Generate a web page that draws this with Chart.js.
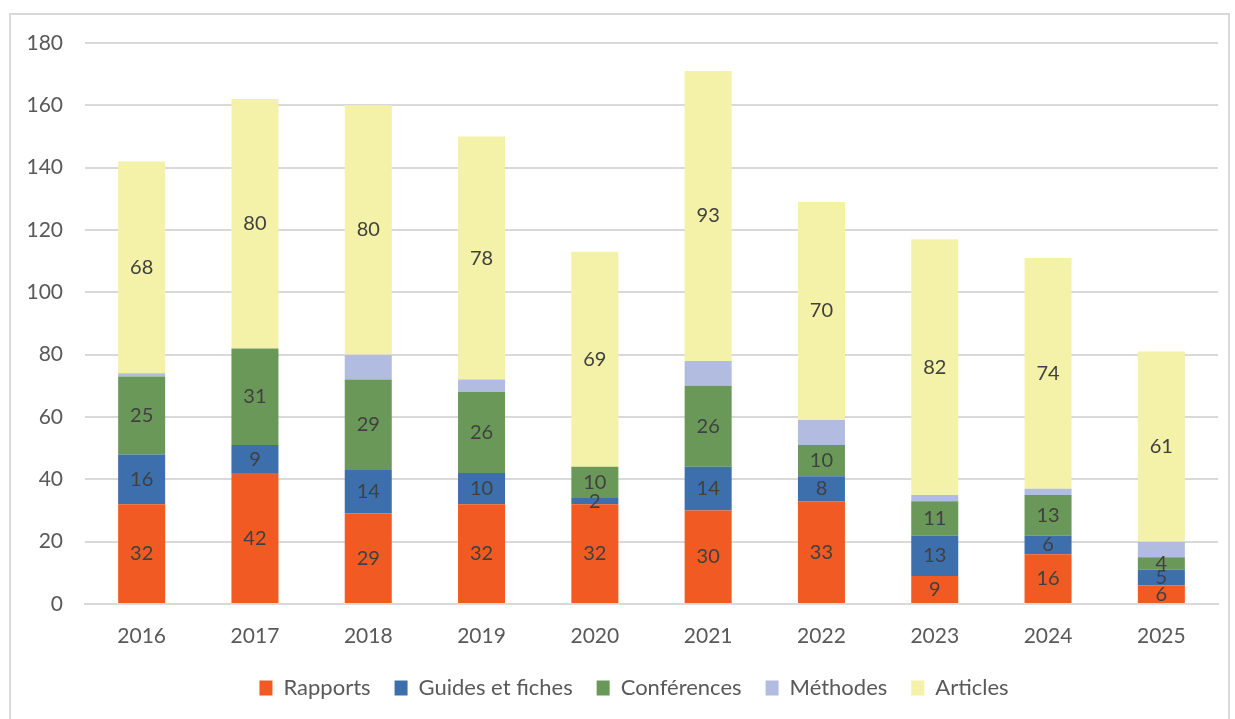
<!DOCTYPE html>
<html>
<head>
<meta charset="utf-8">
<script src="https://cdn.jsdelivr.net/npm/chart.js@4/dist/chart.umd.min.js"></script>
<style>
  body { margin: 0; background: #fff; }
  #frame { position: absolute; left: 9px; top: 13px; width: 1217px; height: 720px; border: 2px solid #d9d9d9; }
  #chart { position: absolute; left: 0; top: 0; }
</style>
</head>
<body>
<div id="frame"></div>
<canvas id="chart" width="1235" height="719"></canvas>
<script>
// Years on the x axis
const years = ['2016', '2017', '2018', '2019', '2020', '2021', '2022', '2023', '2024', '2025'];

// Publication counts per type
const rapports    = [32, 42, 29, 32, 32, 30, 33, 9, 16, 6];
const guides      = [16, 9, 14, 10, 2, 14, 8, 13, 6, 5];
const conferences = [25, 31, 29, 26, 10, 26, 10, 11, 13, 4];
const methodes    = [1, 0, 8, 4, 0, 8, 8, 2, 2, 5];
const articles    = [68, 80, 80, 78, 69, 93, 70, 82, 74, 61];

const yTicks = [0, 20, 40, 60, 80, 100, 120, 140, 160, 180];

const FONT = 'Lato, "Open Sans", sans-serif';

// Draw the value in the middle of each segment (Méthodes has no labels)
const segmentLabels = {
    id: 'segmentLabels',
    afterDatasetsDraw(chart) {
        const ctx = chart.ctx;
        ctx.save();
        ctx.font = '20px ' + FONT;
        ctx.fillStyle = '#404040';
        ctx.textAlign = 'center';
        ctx.textBaseline = 'middle';
        chart.data.datasets.forEach((ds, i) => {
            if (ds.label === 'Méthodes') return;
            chart.getDatasetMeta(i).data.forEach((bar, j) => {
                const v = ds.data[j];
                if (!v) return;
                ctx.fillText(String(v), bar.x, (bar.y + bar.base) / 2);
            });
        });
        ctx.restore();
    }
};

// The legend sits a bit right of the canvas centre in the original
const legendShift = {
    id: 'legendShift',
    afterLayout(chart) {
        chart.legend.left += 25;
        chart.legend.right += 25;
    }
};

const ctx = document.getElementById('chart').getContext('2d');
const chart = new Chart(ctx, {
    type: 'bar',
    data: {
        labels: years,
        datasets: [
            { label: 'Rapports', data: rapports, backgroundColor: '#f15a22' },
            { label: 'Guides et fiches', data: guides, backgroundColor: '#3d6fad' },
            { label: 'Conférences', data: conferences, backgroundColor: '#6a9858' },
            { label: 'Méthodes', data: methodes, backgroundColor: '#b2bbe0' },
            { label: 'Articles', data: articles, backgroundColor: '#f4f1a8' }
        ]
    },
    options: {
        responsive: false,
        animation: false,
        devicePixelRatio: 1,
        layout: {
            padding: { left: 0, right: 17, top: 43, bottom: 10 }
        },
        datasets: {
            bar: {
                categoryPercentage: 0.83,
                barPercentage: 0.5,
                borderWidth: 0
            }
        },
        scales: {
            x: {
                stacked: true,
                grid: { display: false, drawTicks: false },
                border: { display: true, color: '#d9d9d9', width: 2 },
                ticks: { color: '#595959', font: { family: FONT, size: 21 }, padding: 20 },
                afterFit(scale) { scale.height = 49; }
            },
            y: {
                stacked: true,
                min: 0,
                max: 180,
                afterBuildTicks(scale) { scale.ticks = yTicks.map(v => ({ value: v })); },
                grid: { color: '#d9d9d9', lineWidth: 2, drawTicks: false },
                border: { display: false },
                ticks: { color: '#595959', font: { family: FONT, size: 21 }, padding: 22 },
                afterFit(scale) { scale.width = 85; }
            }
        },
        plugins: {
            legend: {
                position: 'bottom',
                labels: {
                    color: '#595959',
                    font: { family: FONT, size: 22 },
                    boxWidth: 13,
                    boxHeight: 15,
                    padding: 24
                }
            },
            tooltip: { enabled: false }
        }
    },
    plugins: [segmentLabels, legendShift]
});
</script>
</body>
</html>
